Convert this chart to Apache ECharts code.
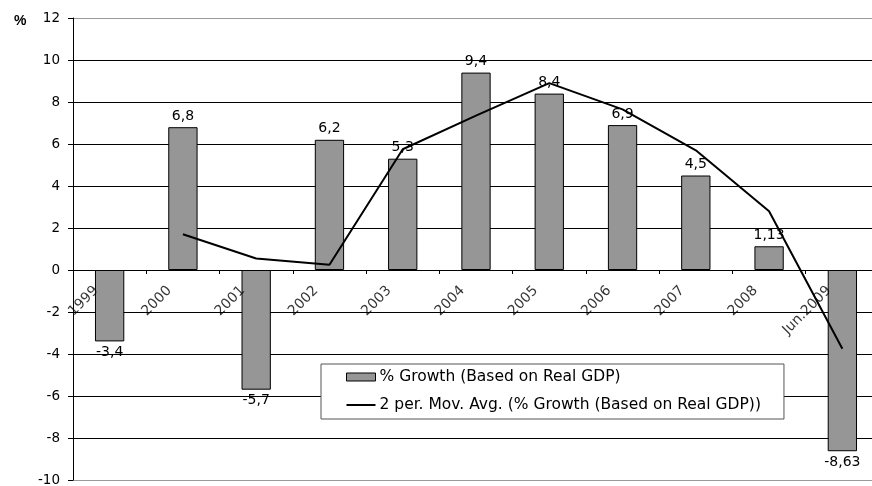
<!DOCTYPE html>
<html>
<head>
<meta charset="utf-8">
<script src="https://cdn.jsdelivr.net/npm/echarts@6/dist/echarts.min.js"></script>
<style>
html,body{margin:0;padding:0;background:#fff;}
#c{width:872px;height:486px;}
</style>
</head>
<body>
<div id="c"></div>
<script>
var categories = ['1999','2000','2001','2002','2003','2004','2005','2006','2007','2008','Jun.2009'];
var growth = [-3.4, 6.8, -5.7, 6.2, 5.3, 9.4, 8.4, 6.9, 4.5, 1.13, -8.63];
var movAvg = [null, 1.7, 0.55, 0.25, 5.75, 7.35, 8.9, 7.65, 5.7, 2.8, -3.75];
var yTicks = [-10, 12, 2];
var barName = '% Growth (Based on Real GDP)';
var lineName = '2 per. Mov. Avg. (% Growth (Based on Real GDP))';

var font = 'DejaVu Sans, Verdana, sans-serif';
var barData = growth.map(function (v) {
  return { value: v, label: { position: v < 0 ? 'bottom' : 'top' } };
});
var catLabelData = categories.map(function (c) { return [c, 0]; });
var splitColors = [];
for (var t = yTicks[0]; t <= yTicks[1]; t += yTicks[2]) {
  splitColors.push((t === yTicks[0] || t === yTicks[1]) ? '#999' : '#000');
}

var chart = echarts.init(document.getElementById('c'), null, { renderer: 'canvas' });
chart.setOption({
  animation: false,
  backgroundColor: '#fff',
  textStyle: { fontFamily: font },
  title: {
    text: '%', left: 9, top: 9,
    textStyle: { fontSize: 14, fontWeight: 'bold', color: '#000', fontFamily: 'Liberation Sans, Arial, sans-serif' }
  },
  grid: { left: 73, right: -7, top: 18, bottom: 6, containLabel: false, outerBoundsMode: 'none' },
  legend: {
    orient: 'vertical',
    left: 321, top: 364,
    padding: [5, 23, 6, 25],
    itemGap: 12,
    itemWidth: 29, itemHeight: 8,
    symbolKeepAspect: true,
    backgroundColor: '#fff',
    borderColor: '#555', borderWidth: 1,
    textStyle: { fontSize: 15.5, color: '#000', fontFamily: font, padding: [0, 0, 0, -1] },
    data: [
      { name: barName, icon: 'rect', itemStyle: { color: '#969696', borderColor: '#000', borderWidth: 1 } },
      { name: lineName, icon: 'path://M0,0L29,0L29,2L0,2Z', itemStyle: { color: '#000', borderWidth: 0 } }
    ]
  },
  xAxis: {
    type: 'category',
    data: categories,
    boundaryGap: true,
    axisLine: { onZero: true, lineStyle: { color: '#000', width: 1 } },
    axisTick: { show: true, length: 4, lineStyle: { color: '#000' } },
    axisLabel: { show: false },
    splitLine: { show: false }
  },
  yAxis: {
    type: 'value',
    min: yTicks[0], max: yTicks[1], interval: yTicks[2],
    axisLine: { show: true, lineStyle: { color: '#000' } },
    axisTick: { show: true, length: 5, lineStyle: { color: '#000' } },
    axisLabel: { fontSize: 13.5, color: '#000', margin: 13, fontFamily: font },
    splitLine: { show: true, lineStyle: { color: splitColors, width: 1 } }
  },
  series: [
    {
      name: barName,
      type: 'bar',
      data: barData,
      barWidth: '40%',
      itemStyle: { color: '#969696', borderColor: '#000', borderWidth: 1 },
      label: {
        show: true, fontSize: 14, color: '#000', distance: 4, fontFamily: font,
        formatter: function (p) { return String(p.value).replace('.', ','); }
      },
      z: 2
    },
    {
      name: lineName,
      type: 'line',
      data: movAvg,
      showSymbol: false,
      symbol: 'none',
      lineStyle: { color: '#000', width: 2 },
      itemStyle: { color: '#000' },
      z: 3
    },
    {
      name: 'categoryLabels',
      type: 'scatter',
      data: catLabelData,
      symbol: 'rect',
      symbolSize: 1,
      silent: true,
      itemStyle: { color: 'rgba(0,0,0,0)' },
      label: {
        show: true,
        position: [-13, 19],
        rotate: 45,
        align: 'right',
        verticalAlign: 'middle',
        fontSize: 14,
        color: '#000',
        fontFamily: font,
        formatter: function (p) { return categories[p.dataIndex]; }
      },
      z: 4
    }
  ]
});
</script>
</body>
</html>
